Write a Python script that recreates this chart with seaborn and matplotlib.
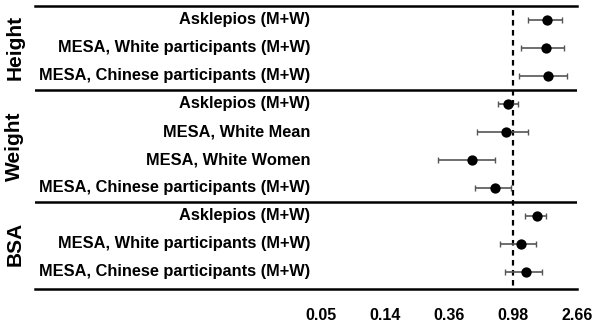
import numpy as np
import pandas as pd
import matplotlib
matplotlib.use('Agg')
import matplotlib.pyplot as plt
import matplotlib.transforms as mtransforms
import seaborn as sns

# 数据（从图中读取，比值，对数刻度）
groups = ['Height', 'Weight', 'BSA']
group_sizes = [3, 4, 3]
studies = ['Asklepios (M+W)', 'MESA, White participants (M+W)', 'MESA, Chinese participants (M+W)',
           'Asklepios (M+W)', 'MESA, White Mean', 'MESA, White Women', 'MESA, Chinese participants (M+W)',
           'Asklepios (M+W)', 'MESA, White participants (M+W)', 'MESA, Chinese participants (M+W)']
estimate = [1.71, 1.68, 1.73, 0.93, 0.90, 0.53, 0.76, 1.45, 1.13, 1.23]
ci_low = [1.27, 1.13, 1.10, 0.79, 0.57, 0.31, 0.55, 1.20, 0.82, 0.88]
ci_high = [2.16, 2.23, 2.34, 1.08, 1.26, 0.76, 0.97, 1.68, 1.43, 1.58]
tick_labels = ['0.05', '0.14', '0.36', '0.98', '2.66']

df = pd.DataFrame({'study': studies, 'est': estimate, 'lo': ci_low, 'hi': ci_high})
df['row'] = np.arange(len(df))

sns.set_style('white')
plt.rcParams['font.family'] = ['Liberation Sans', 'DejaVu Sans']
plt.rcParams['font.weight'] = 'bold'
plt.rcParams['text.color'] = 'black'
plt.rcParams['xtick.color'] = 'black'

fig = plt.figure(figsize=(6, 3.27), dpi=100)
ax = fig.add_axes([0.0583, 0.1162, 0.9034, 0.8655])

# 误差线
ax.errorbar(df['est'], df['row'], xerr=[df['est'] - df['lo'], df['hi'] - df['est']],
            fmt='none', ecolor='#555555', elinewidth=1.2, capsize=2, capthick=1.0, zorder=2)
sns.scatterplot(data=df, x='est', y='row', ax=ax, color='black', s=55,
                edgecolor='black', linewidth=0, zorder=3, legend=False)

ax.set_xscale('log')
ax.set_xlim(np.exp(-7.47), np.exp(1.0))
ax.set_ylim(9.62, -0.5)

# 参考线
ax.vlines(1.0, -0.35, 9.62, colors='black', linestyles=(0, (2.5, 2)), linewidth=1.6, zorder=1)

# 分组分隔线
bounds = np.cumsum(group_sizes)[:-1] - 0.5
for b in bounds:
    ax.axhline(b, color='black', linewidth=1.8)

# 研究名称
for _, r in df.iterrows():
    ax.text(np.exp(-3.17), r['row'], r['study'], ha='right', va='center',
            fontsize=11.8, fontweight='bold', color='black')

# 分组标签
trans = mtransforms.blended_transform_factory(ax.transAxes, ax.transData)
start = 0
for g, n in zip(groups, group_sizes):
    ax.text(-0.037, start + (n - 1) / 2, g, transform=trans, rotation=90,
            ha='center', va='center', fontsize=15, fontweight='bold', color='black')
    start += n

ax.set_xticks(np.exp([-3, -2, -1, 0, 1]))
ax.set_xticklabels(tick_labels, fontsize=11.5, fontweight='bold')
ax.xaxis.set_minor_locator(matplotlib.ticker.NullLocator())
ax.tick_params(axis='x', length=0, pad=14)
ax.set_yticks([])
ax.set_xlabel('')
ax.set_ylabel('')

for side in ['left', 'right']:
    ax.spines[side].set_visible(False)
for side in ['top', 'bottom']:
    ax.spines[side].set_linewidth(1.8)
    ax.spines[side].set_color('black')

fig.savefig('out.png', dpi=100)
